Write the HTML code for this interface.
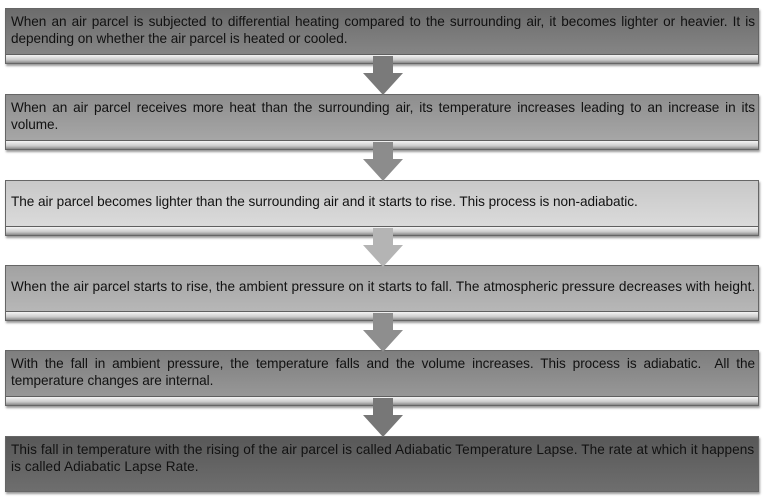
<!DOCTYPE html><html><head><style>
body{margin:0;width:771px;height:504px;background:#fff;position:relative;overflow:hidden;font-family:"Liberation Sans",sans-serif}
.b{position:absolute;left:5px;width:754px;height:56px;box-sizing:border-box;border:1px solid #666;box-shadow:1px 2px 2px #999}
.b .t{position:absolute;left:5px;right:3px;top:4px;font-size:13.6px;line-height:17px;color:#111;text-align:justify;letter-spacing:-0.05px;white-space:normal}
.b .t.c{top:12px;text-align:left}
.b .s{position:absolute;left:0;right:0;bottom:0;height:8px;border-top:1px solid rgba(0,0,0,.35);background:linear-gradient(#f4f4f4,#ccc 60%,#888)}
.a{position:absolute;left:363px;width:40px}
</style></head><body>
<div class="b" style="top:8px;background:linear-gradient(#6c6c6c,#8a8a8a)"><div class="t">When an air parcel is subjected to differential heating compared to the surrounding air, it becomes lighter or heavier. It is depending on whether the air parcel is heated or cooled.</div><div class="s"></div></div>
<div class="b" style="top:94px;background:linear-gradient(#8e8e8e,#ababab)"><div class="t">When an air parcel receives more heat than the surrounding air, its temperature increases leading to an increase in its volume.</div><div class="s"></div></div>
<div class="b" style="top:180px;background:linear-gradient(#c8c8c8,#dedede)"><div class="t c">The air parcel becomes lighter than the surrounding air and it starts to rise. This process is non-adiabatic.</div><div class="s"></div></div>
<div class="b" style="top:265px;background:linear-gradient(#a2a2a2,#bbbbbb)"><div class="t c" style="letter-spacing:0.05px;white-space:nowrap">When the air parcel starts to rise, the ambient pressure on it starts to fall. The atmospheric pressure decreases with height.</div><div class="s"></div></div>
<div class="b" style="top:350px;background:linear-gradient(#7e7e7e,#9c9c9c)"><div class="t">With the fall in ambient pressure, the temperature falls and the volume increases. This process is adiabatic.&nbsp; All the temperature changes are internal.</div><div class="s"></div></div>
<div class="b" style="top:436px;background:linear-gradient(#585858,#6e6e6e)"><div class="t" style="text-align:left;letter-spacing:0.08px;white-space:nowrap">This fall in temperature with the rising of the air parcel is called Adiabatic Temperature Lapse. The rate at which it happens<br>is called Adiabatic Lapse Rate.</div></div>
<svg class="a" style="top:56px" height="40" viewBox="0 0 40 40"><path d="M10 0H30V17H40L20 39L0 17H10Z" fill="#7a7a7a"/></svg>
<svg class="a" style="top:142px" height="40" viewBox="0 0 40 40"><path d="M10 0H30V17H40L20 39L0 17H10Z" fill="#8c8c8c"/></svg>
<svg class="a" style="top:228px" height="40" viewBox="0 0 40 40"><path d="M10 0H30V17H40L20 39L0 17H10Z" fill="#b4b4b4"/></svg>
<svg class="a" style="top:313px" height="40" viewBox="0 0 40 40"><path d="M10 0H30V17H40L20 39L0 17H10Z" fill="#8e8e8e"/></svg>
<svg class="a" style="top:398px" height="40" viewBox="0 0 40 40"><path d="M10 0H30V17H40L20 39L0 17H10Z" fill="#777"/></svg>
</body></html>
